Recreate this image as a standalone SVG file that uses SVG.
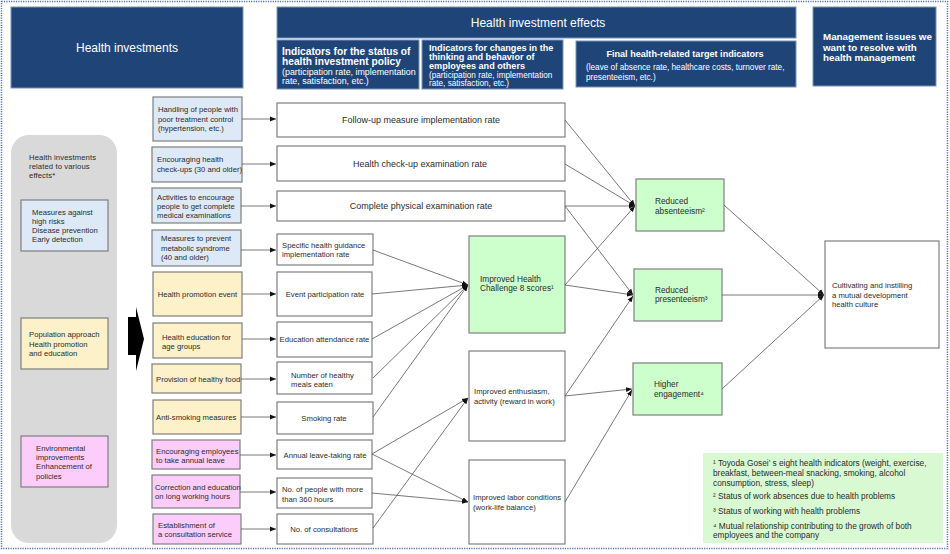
<svg xmlns="http://www.w3.org/2000/svg" width="950" height="554" viewBox="0 0 950 554">
<defs>
<style>
.hdr{fill:#1f4578;stroke:#7b93b5;stroke-width:1}
.ht{fill:#fff;font-family:"Liberation Sans",Arial,sans-serif}
.t{fill:#2b2b2b;font-family:"Liberation Sans",Arial,sans-serif;font-size:7.7px}
.t9{font-size:9px}
.t85{font-size:8.3px}
.box{stroke:#7f7f7f;stroke-width:1.2}
.blue{fill:#dde9f6}
.yel{fill:#fdf1c9}
.pink{fill:#fccdfb}
.green{fill:#ccffcc}
.white{fill:#fff}
.conn{stroke:#555;stroke-width:0.8;fill:none;marker-end:url(#ah)}
.mid{text-anchor:middle}
</style>
<marker id="ah" viewBox="0 0 6 6" refX="6" refY="3" markerWidth="6" markerHeight="6" markerUnits="userSpaceOnUse" orient="auto"><path d="M0,0.6 L6,3 L0,5.4z" fill="#111"/></marker>
</defs>
<rect width="950" height="554" fill="#fff"/>
<rect x="1.5" y="1.5" width="946" height="547" fill="none" stroke="#4f6fb0" stroke-width="1.5" stroke-dasharray="1.2 1.2"/>

<!-- headers -->
<g id="hdr-investments"><rect class="hdr" x="11" y="7" width="232" height="81"/><text class="ht mid" x="127" y="52" font-size="12">Health investments</text></g>
<g id="hdr-effects"><rect class="hdr" x="277" y="7" width="519" height="31"/><text class="ht mid" x="538" y="27" font-size="12">Health investment effects</text></g>
<g id="hdr-policy"><rect class="hdr" x="277" y="40" width="142" height="49"/>
<text class="ht" x="282" y="55" font-size="10.2" font-weight="bold">Indicators for the status of</text>
<text class="ht" x="282" y="65" font-size="10.2" font-weight="bold">health investment policy</text>
<text class="ht" x="282" y="75" font-size="8.9">(participation rate, implementation</text>
<text class="ht" x="282" y="84" font-size="8.9">rate, satisfaction, etc.)</text></g>
<g id="hdr-behavior"><rect class="hdr" x="422" y="40" width="141" height="49"/>
<text class="ht" x="429" y="51" font-size="9.1" font-weight="bold">Indicators for changes in the</text>
<text class="ht" x="429" y="60" font-size="9.1" font-weight="bold">thinking and behavior of</text>
<text class="ht" x="429" y="69" font-size="9.1" font-weight="bold">employees and others</text>
<text class="ht" x="429" y="78" font-size="8.2">(participation rate, implementation</text>
<text class="ht" x="429" y="86" font-size="8.2">rate, satisfaction, etc.)</text></g>
<g id="hdr-final"><rect class="hdr" x="576" y="41" width="220" height="46"/>
<text class="ht mid" x="685" y="57" font-size="9.1" font-weight="bold">Final health-related target indicators</text>
<text class="ht" x="586" y="70" font-size="8.2">(leave of absence rate, healthcare costs, turnover rate,</text>
<text class="ht" x="586" y="80" font-size="8.2">presenteeism, etc.)</text></g>
<g id="hdr-management"><rect class="hdr" x="813" y="7" width="123" height="79"/>
<text class="ht" x="823" y="40" font-size="9.8" font-weight="bold">Management issues we</text>
<text class="ht" x="823" y="50.5" font-size="9.8" font-weight="bold">want to resolve with</text>
<text class="ht" x="823" y="61" font-size="9.8" font-weight="bold">health management</text></g>

<!-- left panel -->
<g id="panel">
<rect x="11" y="135" width="106" height="408" rx="18" fill="#d9d9d9"/>
<text class="t" x="29" y="160" font-size="8.3" letter-spacing="0.1">Health investments</text>
<text class="t" x="29" y="169" font-size="8.3" letter-spacing="0.1">related to various</text>
<text class="t" x="29" y="178" font-size="8.3" letter-spacing="0.1">effects*</text>
</g>
<g id="cat-risk"><rect class="box blue" x="21" y="200" width="87" height="51"/>
<text class="t" x="32" y="215">Measures against</text><text class="t" x="32" y="224">high risks</text><text class="t" x="32" y="233">Disease prevention</text><text class="t" x="32" y="242">Early detection</text></g>
<g id="cat-pop"><rect class="box yel" x="21" y="318" width="87" height="51"/>
<text class="t" x="29" y="337">Population approach</text><text class="t" x="29" y="347">Health promotion</text><text class="t" x="29" y="356">and education</text></g>
<g id="cat-env"><rect class="box pink" x="21" y="436" width="87" height="51"/>
<text class="t" x="36" y="451">Environmental</text><text class="t" x="36" y="460">improvements</text><text class="t" x="36" y="469">Enhancement of</text><text class="t" x="36" y="479">policies</text></g>
<g id="big-arrow"><path d="M128,317 H136 V307 L144,339 L136,371 V355 H128 Z" fill="#000"/></g>

<!-- investment boxes -->
<g id="inv1"><rect class="box blue" x="153" y="97" width="89" height="44"/><text class="t" x="158" y="112">Handling of people with</text><text class="t" x="158" y="122">poor treatment control</text><text class="t" x="158" y="131">(hypertension, etc.)</text></g>
<g id="inv2"><rect class="box blue" x="152" y="147" width="90" height="35"/><text class="t" x="157" y="162">Encouraging health</text><text class="t" x="157" y="172">check-ups (30 and older)</text></g>
<g id="inv3"><rect class="box blue" x="152" y="188" width="89" height="35"/><text class="t" x="157" y="200">Activities to encourage</text><text class="t" x="157" y="209">people to get complete</text><text class="t" x="157" y="218">medical examinations</text></g>
<g id="inv4"><rect class="box blue" x="152" y="230" width="89" height="36"/><text class="t" x="161" y="241">Measures to prevent</text><text class="t" x="161" y="251">metabolic syndrome</text><text class="t" x="161" y="260">(40 and older)</text></g>
<g id="inv5"><rect class="box yel" x="153" y="272" width="89" height="44"/><text class="t mid" x="197.5" y="297">Health promotion event</text></g>
<g id="inv6"><rect class="box yel" x="153" y="323" width="89" height="35"/><text class="t" x="162" y="340">Health education for</text><text class="t" x="162" y="349">age groups</text></g>
<g id="inv7"><rect class="box yel" x="152" y="364" width="89" height="29"/><text class="t" x="156" y="382">Provision of healthy food</text></g>
<g id="inv8"><rect class="box yel" x="153" y="400" width="88" height="34"/><text class="t" x="156" y="420">Anti-smoking measures</text></g>
<g id="inv9"><rect class="box pink" x="152" y="440" width="88" height="29"/><text class="t" x="156" y="454">Encouraging employees</text><text class="t" x="156" y="463">to take annual leave</text></g>
<g id="inv10"><rect class="box pink" x="152" y="475" width="88" height="33"/><text class="t" x="155" y="490">Correction and education</text><text class="t" x="155" y="499">on long working hours</text></g>
<g id="inv11"><rect class="box pink" x="153" y="514" width="88" height="30"/><text class="t" x="158" y="528">Establishment of</text><text class="t" x="158" y="537">a consultation service</text></g>

<!-- indicator boxes -->
<g id="ind1"><rect class="box white" x="277" y="103" width="288" height="34"/><text class="t t9 mid" x="421" y="123">Follow-up measure implementation rate</text></g>
<g id="ind2"><rect class="box white" x="277" y="146" width="288" height="35"/><text class="t t9 mid" x="420" y="167">Health check-up examination rate</text></g>
<g id="ind3"><rect class="box white" x="277" y="191" width="288" height="30"/><text class="t t9 mid" x="421" y="209">Complete physical examination rate</text></g>
<g id="ind4"><rect class="box white" x="277" y="234" width="96" height="31"/><text class="t" x="282" y="248">Specific health guidance</text><text class="t" x="282" y="257">implementation rate</text></g>
<g id="ind5"><rect class="box white" x="277" y="272" width="95" height="44"/><text class="t mid" x="325" y="297">Event participation rate</text></g>
<g id="ind6"><rect class="box white" x="277" y="322" width="95" height="35"/><text class="t mid" x="324.5" y="342">Education attendance rate</text></g>
<g id="ind7"><rect class="box white" x="277" y="362" width="95" height="32"/><text class="t" x="291" y="378">Number of healthy</text><text class="t" x="291" y="387">meals eaten</text></g>
<g id="ind8"><rect class="box white" x="277" y="402" width="96" height="32"/><text class="t mid" x="324" y="421">Smoking rate</text></g>
<g id="ind9"><rect class="box white" x="277" y="440" width="95" height="29"/><text class="t mid" x="325" y="458">Annual leave-taking rate</text></g>
<g id="ind10"><rect class="box white" x="277" y="478" width="95" height="30"/><text class="t" x="282" y="492">No. of people with more</text><text class="t" x="282" y="502">than 360 hours</text></g>
<g id="ind11"><rect class="box white" x="277" y="514" width="96" height="30"/><text class="t mid" x="324" y="532">No. of consultations</text></g>

<!-- behaviour boxes -->
<g id="hc8"><rect class="box green" x="469" y="236" width="96" height="97"/><text class="t t85" x="480" y="282">Improved Health</text><text class="t t85" x="480" y="291">Challenge 8 scores¹</text></g>
<g id="enthusiasm"><rect class="box white" x="469" y="351" width="96" height="90"/><text class="t" x="474" y="394">Improved enthusiasm,</text><text class="t" x="474" y="404">activity (reward in work)</text></g>
<g id="labor"><rect class="box white" x="469" y="460" width="96" height="84"/><text class="t" x="473" y="500">Improved labor conditions</text><text class="t" x="473" y="510">(work-life balance)</text></g>

<!-- targets -->
<g id="absenteeism"><rect class="box green" x="636" y="179" width="88" height="52"/><text class="t t85" x="655" y="204">Reduced</text><text class="t t85" x="655" y="214">absenteeism²</text></g>
<g id="presenteeism"><rect class="box green" x="634" y="269" width="88" height="52"/><text class="t t85" x="655" y="293">Reduced</text><text class="t t85" x="655" y="302">presenteeism³</text></g>
<g id="engagement"><rect class="box green" x="633" y="363" width="89" height="52"/><text class="t t85" x="654" y="387">Higher</text><text class="t t85" x="654" y="397">engagement⁴</text></g>

<g id="culture"><rect class="box white" x="825" y="241" width="114" height="107"/><text class="t" x="832" y="288" font-size="9.3">Cultivating and instilling</text><text class="t" x="832" y="297.5" font-size="9.3">a mutual development</text><text class="t" x="832" y="307" font-size="9.3">health culture</text></g>

<g id="footnotes"><rect x="703" y="453" width="240" height="90" fill="#d9f9d3"/>
<text class="t t85" x="713" y="466">¹ Toyoda Gosei’ s eight health indicators (weight, exercise,</text>
<text class="t t85" x="713" y="476">breakfast, between-meal snacking, smoking, alcohol</text>
<text class="t t85" x="713" y="486">consumption, stress, sleep)</text>
<text class="t t85" x="713" y="499">² Status of work absences due to health problems</text>
<text class="t t85" x="713" y="514">³ Status of working with health problems</text>
<text class="t t85" x="713" y="529">⁴ Mutual relationship contributing to the growth of both</text>
<text class="t t85" x="713" y="538">employees and the company</text>
</g>

<!-- connectors -->
<g id="connectors">
<line class="conn" x1="242" y1="119" x2="276" y2="119"/>
<line class="conn" x1="242" y1="164" x2="276" y2="164"/>
<line class="conn" x1="241" y1="206" x2="276" y2="206"/>
<line class="conn" x1="241" y1="250" x2="276" y2="250"/>
<line class="conn" x1="242" y1="294" x2="276" y2="294"/>
<line class="conn" x1="242" y1="339" x2="276" y2="339"/>
<line class="conn" x1="241" y1="379" x2="276" y2="379"/>
<line class="conn" x1="241" y1="417" x2="276" y2="417"/>
<line class="conn" x1="240" y1="455" x2="276" y2="455"/>
<line class="conn" x1="240" y1="492" x2="276" y2="492"/>
<line class="conn" x1="241" y1="529" x2="276" y2="529"/>

<line class="conn" x1="565" y1="120" x2="635" y2="206"/>
<line class="conn" x1="565" y1="164" x2="635" y2="206"/>
<line class="conn" x1="565" y1="206" x2="635" y2="206"/>
<line class="conn" x1="565" y1="206" x2="633" y2="295"/>

<line class="conn" x1="373" y1="250" x2="468" y2="285"/>
<line class="conn" x1="372" y1="294" x2="468" y2="285"/>
<line class="conn" x1="372" y1="339" x2="468" y2="285"/>
<line class="conn" x1="373" y1="378" x2="468" y2="285"/>
<line class="conn" x1="373" y1="417" x2="468" y2="285"/>

<line class="conn" x1="372" y1="454" x2="468" y2="398"/>
<line class="conn" x1="372" y1="454" x2="468" y2="502"/>
<line class="conn" x1="372" y1="493" x2="468" y2="502"/>
<line class="conn" x1="373" y1="528" x2="468" y2="398"/>

<line class="conn" x1="565" y1="285" x2="635" y2="206"/>
<line class="conn" x1="565" y1="285" x2="633" y2="295"/>
<line class="conn" x1="565" y1="396" x2="633" y2="296"/>
<line class="conn" x1="565" y1="396" x2="632" y2="389"/>
<line class="conn" x1="565" y1="502" x2="632" y2="390"/>

<line class="conn" x1="724" y1="205" x2="824" y2="295"/>
<line class="conn" x1="722" y1="295" x2="824" y2="295"/>
<line class="conn" x1="722" y1="389" x2="824" y2="295"/>
</g>
</svg>
